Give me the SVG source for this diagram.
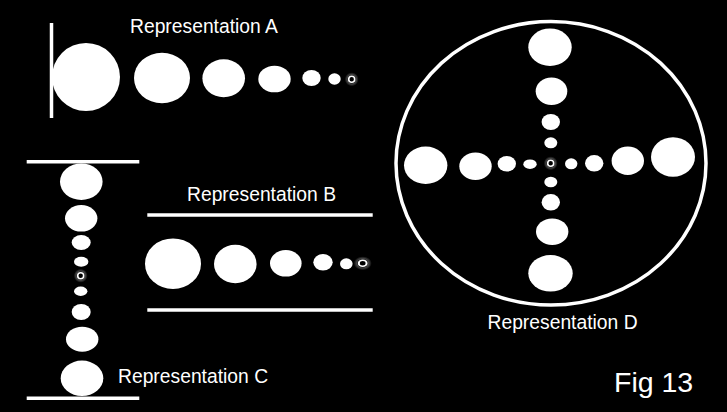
<svg xmlns="http://www.w3.org/2000/svg" width="727" height="412" viewBox="0 0 727 412">
<defs>
<radialGradient id="halo">
<stop offset="0.4" stop-color="#ffffff" stop-opacity="0.5"/>
<stop offset="1" stop-color="#ffffff" stop-opacity="0"/>
</radialGradient>
<g id="ring">
<circle r="7" fill="url(#halo)"/>
<circle r="4.2" fill="#000"/>
<circle r="3" fill="none" stroke="#fff" stroke-width="1.6"/>
</g>
</defs>
<style>
.dot{fill:#fff}
.bar{stroke:#fff;stroke-width:3.5;fill:none}
.lbl{font-family:"Liberation Sans",Arial,sans-serif;font-size:19.3px;fill:#fff}
.fig{font-family:"Liberation Sans",Arial,sans-serif;font-size:28.5px;fill:#fff}
</style>
<rect width="727" height="412" fill="#000"/>

<g id="repA">
<line class="bar" x1="51.5" y1="23" x2="51.5" y2="118"/>
<ellipse class="dot" cx="86" cy="77" rx="34" ry="34"/>
<ellipse class="dot" cx="162" cy="78" rx="28" ry="25.3"/>
<ellipse class="dot" cx="223.7" cy="78.3" rx="21.3" ry="19"/>
<ellipse class="dot" cx="274.5" cy="79" rx="16.2" ry="13.3"/>
<ellipse class="dot" cx="311.5" cy="78" rx="9.2" ry="8"/>
<ellipse class="dot" cx="334.5" cy="79" rx="6.2" ry="5.8"/>
<use href="#ring" x="351.7" y="79.3"/>
<text class="lbl" x="130" y="33">Representation A</text>
</g>

<g id="repB">
<line class="bar" x1="147.3" y1="215" x2="372.7" y2="215"/>
<line class="bar" x1="147.3" y1="310" x2="372.7" y2="310"/>
<ellipse class="dot" cx="173" cy="263.7" rx="28" ry="25.3"/>
<ellipse class="dot" cx="235.3" cy="264" rx="21.3" ry="19.2"/>
<ellipse class="dot" cx="285.8" cy="263.3" rx="15.8" ry="13.3"/>
<ellipse class="dot" cx="323" cy="262.3" rx="9.7" ry="8.3"/>
<ellipse class="dot" cx="346.3" cy="263.8" rx="6.3" ry="5.5"/>
<use href="#ring" transform="translate(362.7,263.3) scale(1.3,1)"/>
<text class="lbl" x="187" y="201">Representation B</text>
</g>

<g id="repC">
<line class="bar" x1="26.7" y1="161.7" x2="139.3" y2="161.7"/>
<line class="bar" x1="26.7" y1="398.3" x2="139.3" y2="398.3"/>
<ellipse class="dot" cx="81.3" cy="181.7" rx="21.3" ry="18.3"/>
<ellipse class="dot" cx="81.2" cy="218.3" rx="16.2" ry="13.3"/>
<ellipse class="dot" cx="81.2" cy="242.5" rx="9.5" ry="7.5"/>
<ellipse class="dot" cx="81.2" cy="261.7" rx="7.2" ry="5"/>
<use href="#ring" x="80.7" y="275.7"/>
<ellipse class="dot" cx="80.7" cy="291.3" rx="6.7" ry="4.7"/>
<ellipse class="dot" cx="81.2" cy="312" rx="9.5" ry="8"/>
<ellipse class="dot" cx="82.2" cy="339.2" rx="16.2" ry="12.5"/>
<ellipse class="dot" cx="82" cy="378.3" rx="21.3" ry="17.7"/>
<text class="lbl" x="118" y="383">Representation C</text>
</g>

<g id="repD">
<ellipse class="bar" cx="551" cy="163.3" rx="155" ry="141.7"/>
<ellipse class="dot" cx="550" cy="47.2" rx="21.7" ry="18.8"/>
<ellipse class="dot" cx="551.5" cy="91.2" rx="15.8" ry="13.8"/>
<ellipse class="dot" cx="550.8" cy="122" rx="9.2" ry="8"/>
<ellipse class="dot" cx="550.8" cy="142.8" rx="6.5" ry="5.5"/>
<use href="#ring" x="550.7" y="163.3"/>
<ellipse class="dot" cx="550.8" cy="182" rx="6.5" ry="5.3"/>
<ellipse class="dot" cx="550.8" cy="202.3" rx="9.2" ry="8.3"/>
<ellipse class="dot" cx="552.2" cy="231.7" rx="16.2" ry="13.3"/>
<ellipse class="dot" cx="550.5" cy="273.3" rx="22.2" ry="18.3"/>
<ellipse class="dot" cx="425.7" cy="165.3" rx="21.7" ry="18.7"/>
<ellipse class="dot" cx="475.5" cy="166.2" rx="16.2" ry="13.8"/>
<ellipse class="dot" cx="506.8" cy="163.8" rx="9.2" ry="7.8"/>
<ellipse class="dot" cx="530" cy="164.2" rx="6.7" ry="4.8"/>
<ellipse class="dot" cx="571.2" cy="163.8" rx="6.2" ry="5.5"/>
<ellipse class="dot" cx="594.2" cy="163.3" rx="9.2" ry="8.3"/>
<ellipse class="dot" cx="627.8" cy="160.8" rx="16.2" ry="14.2"/>
<ellipse class="dot" cx="673" cy="157" rx="22" ry="19.7"/>
<text class="lbl" x="487.5" y="329">Representation D</text>
</g>

<g id="fig">
<text class="fig" x="614" y="392">Fig 13</text>
</g>
</svg>
